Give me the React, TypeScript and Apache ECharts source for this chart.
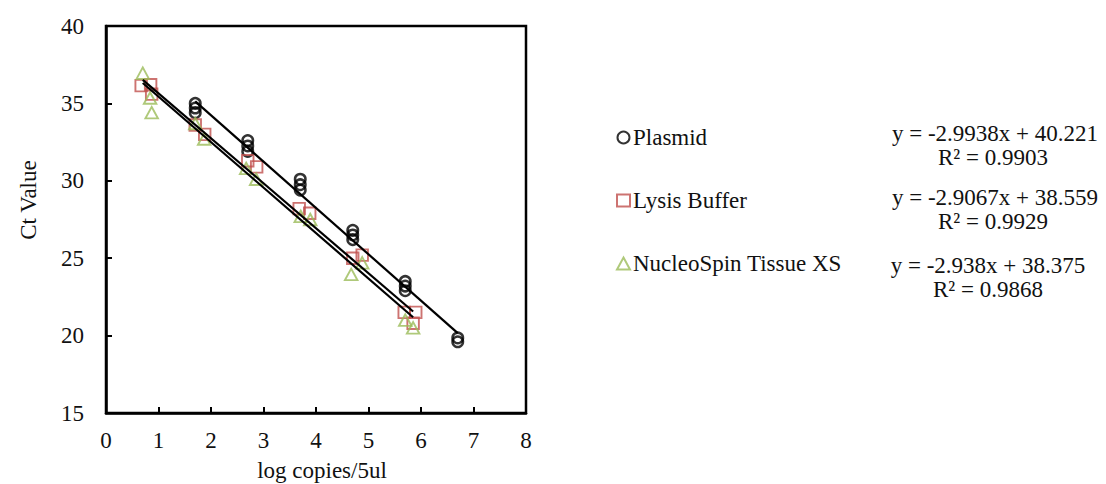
import React, { useEffect, useRef } from "react";
import * as echarts from "echarts";

const seriesNames = ["Plasmid", "Lysis Buffer", "NucleoSpin Tissue XS"];

const plasmidPoints = [
  [1.7, 35.0], [1.7, 34.7], [1.7, 34.4],
  [2.7, 32.6], [2.7, 32.25], [2.7, 31.9],
  [3.7, 30.1], [3.7, 29.75], [3.7, 29.4],
  [4.7, 26.8], [4.7, 26.5], [4.7, 26.2],
  [5.7, 23.5], [5.7, 23.2], [5.7, 22.9],
  [6.7, 19.85], [6.7, 19.6],
];

const lysisPoints = [
  [0.67, 36.15], [0.85, 36.2], [0.87, 35.6],
  [1.7, 33.6], [1.88, 33.0],
  [2.7, 31.3], [2.87, 30.9],
  [3.68, 28.2], [3.88, 27.9],
  [4.7, 25.0], [4.88, 25.2],
  [5.68, 21.5], [5.9, 21.5], [5.85, 20.8],
];

const nucleoPoints = [
  [0.7, 36.95], [0.84, 35.35], [0.87, 34.4],
  [1.7, 33.7], [1.87, 32.7],
  [2.67, 30.8], [2.86, 30.1],
  [3.71, 27.7], [3.89, 27.5],
  [4.67, 23.95], [4.88, 24.7],
  [5.7, 21.0], [5.85, 20.5],
];

const fitSlopes = [-2.9938, -2.9067, -2.938];
const fitIntercepts = [40.221, 38.559, 38.375];
const fitRanges = [[1.7, 6.7], [0.7, 5.85], [0.7, 5.85]];
const equationTexts = ["y = -2.9938x + 40.221", "y = -2.9067x + 38.559", "y = -2.938x + 38.375"];
const rSquaredTexts = ["R² = 0.9903", "R² = 0.9929", "R² = 0.9868"];

const xAxisTitle = "log copies/5ul";
const yAxisTitle = "Ct Value";

const colors = ["#000000", "#C0504D", "#9BBB59"];
const FONT_NAME = "Liberation Serif";
const FS = 23;

export default function App() {
  const ref = useRef<HTMLDivElement>(null);

  useEffect(() => {
    document.body.style.margin = "0";
    if (!ref.current) return;
    const chart = echarts.init(ref.current, undefined, { renderer: "svg" });

    const fitLines = fitSlopes.map((s, i) =>
      fitRanges[i].map((x) => [x, s * x + fitIntercepts[i]])
    );

    const eqPos = [
      [995, 133.5, 993, 157],
      [995, 197.5, 993, 221],
      [988, 265.5, 988, 289],
    ];

    const txt = (text: string, x: number, y: number, size: number, extra: any = {}) => ({
      type: "text",
      x,
      y,
      ...extra,
      style: {
        text,
        fontSize: size,
        fontFamily: FONT_NAME,
        fill: "#111",
        align: "center",
        verticalAlign: "middle",
      },
    });

    const graphics: any[] = [];
    eqPos.forEach((p, i) => {
      graphics.push(txt(equationTexts[i], p[0], p[1], 23));
      graphics.push(txt(rSquaredTexts[i], p[2], p[3], 23));
    });
    graphics.push(txt(yAxisTitle, 28, 200, FS, { rotation: Math.PI / 2 }));
    graphics.push(txt(xAxisTitle, 322, 470, FS));

    const legendIcons = ["circle", "rect", "triangle"];

    chart.setOption({
      animation: false,
      backgroundColor: "#ffffff",
      textStyle: { fontFamily: FONT_NAME },
      grid: {
        left: 106,
        top: 26,
        width: 420,
        height: 387,
        show: true,
        borderColor: "#000",
        borderWidth: 2.5,
        backgroundColor: "transparent",
      },
      xAxis: {
        type: "value",
        min: 0,
        max: 8,
        interval: 1,
        axisLine: { show: true, onZero: false, lineStyle: { color: "#000", width: 2.5 } },
        axisTick: { show: true, inside: true, length: 6, lineStyle: { color: "#000", width: 2 } },
        axisLabel: { margin: 16, fontSize: FS, fontFamily: FONT_NAME, color: "#111" },
        splitLine: { show: false },
      },
      yAxis: {
        type: "value",
        min: 15,
        max: 40,
        interval: 5,
        axisLine: { show: true, onZero: false, lineStyle: { color: "#000", width: 2.5 } },
        axisTick: { show: true, inside: true, length: 6, lineStyle: { color: "#000", width: 2 } },
        axisLabel: { margin: 22, fontSize: FS, fontFamily: FONT_NAME, color: "#111" },
        splitLine: { show: false },
      },
      legend: {
        orient: "vertical",
        left: 616,
        top: 126,
        padding: 0,
        itemWidth: 13,
        itemHeight: 12,
        itemGap: 40,
        selectedMode: false,
        textStyle: { fontSize: 23, fontFamily: FONT_NAME, color: "#111", padding: [0, 0, 0, -2] },
        data: seriesNames.map((n, i) => ({
          name: n,
          icon: legendIcons[i],
          itemStyle: { color: "transparent", borderColor: colors[i], borderWidth: 2 },
        })),
      },
      series: [
        {
          name: seriesNames[0],
          type: "scatter",
          data: plasmidPoints,
          symbol: "circle",
          symbolSize: 10.5,
          itemStyle: { color: "transparent", borderColor: colors[0], borderWidth: 2.5 },
          z: 2,
        },
        {
          name: seriesNames[1],
          type: "scatter",
          data: lysisPoints,
          symbol: "rect",
          symbolSize: 11.5,
          itemStyle: { color: "transparent", borderColor: colors[1], borderWidth: 1.9 },
          z: 2,
        },
        {
          name: seriesNames[2],
          type: "scatter",
          data: nucleoPoints,
          symbol: "triangle",
          symbolSize: [12.5, 11.5],
          itemStyle: { color: "transparent", borderColor: colors[2], borderWidth: 1.9 },
          z: 2,
        },
        ...fitLines.map((d, i) => ({
          name: seriesNames[i] + " fit",
          type: "line",
          data: d,
          showSymbol: false,
          symbol: "none",
          lineStyle: { color: "#000", width: 2.2 },
          silent: true,
          z: 3,
        })),
      ],
      graphic: graphics,
    });

    return () => chart.dispose();
  }, []);

  return <div ref={ref} style={{ width: 1106, height: 484 }} />;
}
